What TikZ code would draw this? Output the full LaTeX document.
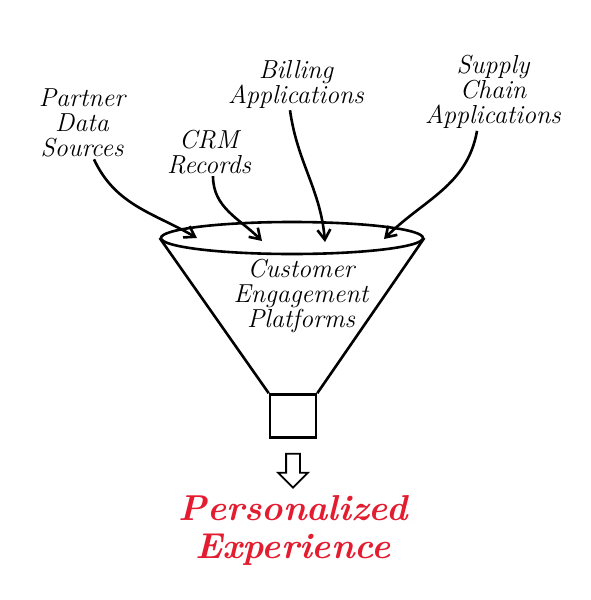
\documentclass[tikz,border=0pt]{standalone}
\usepackage{fontspec}
\usepackage{tikz}
\usetikzlibrary{positioning,shapes.geometric,shapes.arrows,arrows.meta}

\definecolor{redtext}{RGB}{228,28,48}

\tikzset{
  label/.style={align=center,font=\fontsize{26}{25}\selectfont\itshape,inner sep=2pt},
  feed/.style={line width=2.6pt,-{Straight Barb[length=10pt,width=13pt,line width=2.6pt]}},
  rim/.style={ellipse,draw,line width=2.6pt,minimum width=262pt,minimum height=32pt,inner sep=0pt},
  spout/.style={rectangle,draw,line width=2.6pt,minimum width=46pt,minimum height=43pt,inner sep=0pt},
  outarrow/.style={single arrow,draw,line width=1.8pt,shape border rotate=270,
    minimum width=28pt,single arrow head extend=8pt,minimum height=34pt,
    inner xsep=6pt,inner ysep=0pt,single arrow tip angle=90},
  result/.style={align=center,text=redtext,font=\fontsize{36}{38}\selectfont\itshape\bfseries,inner sep=0pt}
}

\begin{document}
\begin{tikzpicture}[x=1pt,y=-1pt]
   \useasboundingbox (0,0) rectangle (590,600);
   % funnel
   \node[rim]   (rim)   at (292,238) {};
   \node[spout] (spout) at (293,416) {};
   \draw[line width=2.6pt] (rim.west) -- (spout.north west);
   \draw[line width=2.6pt] (rim.east) -- (spout.north east);
   \node[label] (cep) at (301,296) {Customer\\Engagement\\Platforms};
   % sources
   \node[label] (partner) at (82,123)  {Partner\\Data\\Sources};
   \node[label] (crm)     at (209,152) {CRM\\Records};
   \node[label] (billing) at (296,84)  {Billing\\Applications};
   \node[label] (supply)  at (493,92)  {Supply\\Chain\\Applications};
   \coordinate (in_1) at (197,238);
   \coordinate (in_2) at (262,241);
   \coordinate (in_3) at (325,242);
   \coordinate (in_4) at (384,239);
   \path[feed]
    ([xshift=12pt]partner.south) edge[out=-65,in=150] (in_1)
    ([xshift=4pt]crm.south)      edge[out=-90,in=135] (in_2)
    ([xshift=-6pt]billing.south) edge[out=-82,in=95]  (in_3)
    ([xshift=-16pt]supply.south) edge[out=-100,in=45] (in_4);
   % output
   \node[outarrow] (down) [below=14pt of spout] {};
   \node[result]   (pers) [below=6pt of down] {Personalized\\Experience};
\end{tikzpicture}
\end{document}
